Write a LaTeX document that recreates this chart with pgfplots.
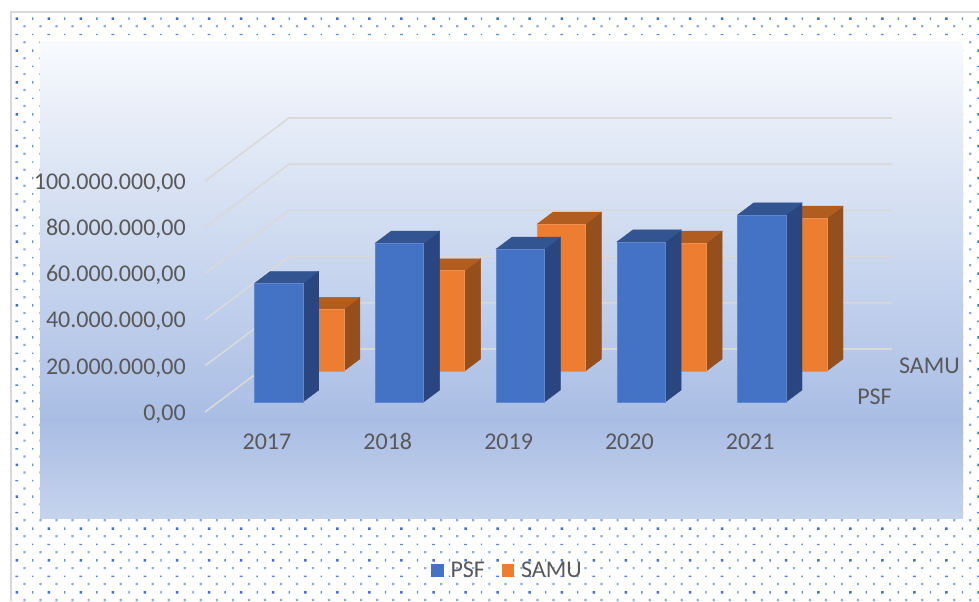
\documentclass[border=0pt]{standalone}
\usepackage{fontspec}
\setmainfont{Carlito}
\usepackage{pgfplots}
\pgfplotsset{compat=1.18}
\definecolor{bgA}{HTML}{C5D3EC}
\definecolor{bgB}{HTML}{A9BDE4}
\definecolor{bgC}{HTML}{D8E2F3}
\definecolor{bgD}{HTML}{F8FAFE}
\definecolor{txt}{HTML}{595959}
\definecolor{gridc}{HTML}{D9D9D9}
\definecolor{bFront}{HTML}{4472C4}
\definecolor{bTop}{HTML}{325591}
\definecolor{bSide}{HTML}{2A4680}
\definecolor{oFront}{HTML}{ED7D31}
\definecolor{oTop}{HTML}{B25D20}
\definecolor{oSide}{HTML}{954F1C}
\definecolor{dotS}{HTML}{4472C4}
\definecolor{dotM}{HTML}{8FAADC}
\pgfdeclareverticalshading{bgshade}{100bp}{color(0bp)=(bgA); color(25bp)=(bgA); color(35.25bp)=(bgB); color(59.5bp)=(bgC); color(75bp)=(bgD); color(100bp)=(bgD)}
% one 3D bar: year, x offset (years), base (millions), value (millions), front, top, side colours
\newcommand\dbar[7]{%
  \pgfmathsetmacro\xa{#1+#2}%
  \pgfmathsetmacro\xb{\xa+0.4}%
  \pgfmathsetmacro\xc{\xb+0.1325}%
  \pgfmathsetmacro\xd{\xa+0.1325}%
  \pgfmathsetmacro\ya{#3}%
  \pgfmathsetmacro\yb{#3+#4}%
  \pgfmathsetmacro\yc{\yb+5.195}%
  \pgfmathsetmacro\yd{\ya+5.195}%
  \addplot[forget plot,fill=#7,draw=#7,line width=.3pt] coordinates {(\xb,\ya) (\xc,\yd) (\xc,\yc) (\xb,\yb)} --cycle;
  \addplot[forget plot,fill=#6,draw=#6,line width=.3pt] coordinates {(\xa,\yb) (\xb,\yb) (\xc,\yc) (\xd,\yc)} --cycle;
  \addplot[forget plot,fill=#5,draw=#5!85!white,line width=.4pt] coordinates {(\xa,\ya) (\xb,\ya) (\xb,\yb) (\xa,\yb)} --cycle;
}
\newcommand\gline[2]{%
  \addplot[forget plot,gridc,line width=1.2pt] coordinates {(2016.487,#1) (2017.182,#2) (2022.174,#2)};
}
\begin{document}
\begin{tikzpicture}[x=0.75pt,y=-0.75pt]
\path[use as bounding box] (0,0) rectangle (979,601);
\fill[white] (0,0) rectangle (979,601);
% dotted chart-area texture
\fill[dotS] \foreach \i in {0,...,30}{\foreach \j in {0,...,18}{
  ({16.7+32.06*\i-1.2},{18.6+31.87*\j-1.2}) rectangle +(2.5,2.5)}};
\fill[dotS!80!white] \foreach \i in {0,...,30}{\foreach \j in {0,...,18}{
  ({32.7+32.06*\i-.6},{18.6+31.87*\j-1.2}) rectangle +(1.3,2.5)}};
\fill[dotS!85!white] \foreach \i in {0,...,30}{\foreach \j in {0,...,18}{
  ({16.7+32.06*\i-1.4},{34.5+31.87*\j-.6}) rectangle +(2.8,1.3)
  ({32.7+32.06*\i-.7},{34.5+31.87*\j-.7}) rectangle +(1.4,1.4)}};
\fill[dotM] \foreach \i in {0,...,60}{\foreach \j in {0,...,37}{
  ({24.5+16.03*\i-1.1},{26.3+15.935*\j-1.1}) rectangle +(2.2,2.2)}};
% frame and plot panel
\draw[gridc,line width=1.5pt] (10.8,601) -- (10.8,12.2) -- (979,12.2);
\shade[shading=bgshade] (40,41) rectangle (963,518);
\begin{axis}[
  at={(205*0.75pt,-412*0.75pt)},anchor=south west,
  scale only axis,width=515.25pt,height=173.25pt,
  xmin=2016.487,xmax=2022.174,ymin=0,ymax=100,
  clip=false,
  axis line style={draw=none},
  major tick length=0pt,
  xtick={2017,2018,2019,2020,2021},
  xticklabels={2017,2018,2019,2020,2021},
  ytick={0,20,40,60,80,100},
  yticklabels={{0,00},{20.000.000,00},{40.000.000,00},{60.000.000,00},{80.000.000,00},{100.000.000,00}},
  tick label style={font=\fontsize{18}{20}\selectfont,text=txt},
  yticklabel style={anchor=east,inner sep=0pt,xshift=-14.2pt,yshift=-1.5pt},
  xticklabel style={anchor=center,inner sep=0pt,yshift=-22pt},
  legend style={at={(0.441,-0.685)},anchor=center,draw=none,fill=none,
    font=\fontsize{18}{20}\selectfont,text=txt,legend columns=2,
    /tikz/every even column/.append style={column sep=10.8pt}},
  legend image code/.code={\draw[#1] (0.6pt,-4.2pt) rectangle (9pt,4.2pt); \path (12.5pt,0pt);},
]
\gline{0}{27.27}
\gline{20}{47.27}
\gline{40}{67.27}
\gline{60}{87.27}
\gline{80}{107.27}
\gline{100}{127.27}
% SAMU row
\dbar{2017}{0.236}{17.75}{26.7}{oFront}{oTop}{oSide}
\dbar{2018}{0.236}{17.75}{43.4}{oFront}{oTop}{oSide}
\dbar{2019}{0.236}{17.75}{63.6}{oFront}{oTop}{oSide}
\dbar{2020}{0.236}{17.75}{55.4}{oFront}{oTop}{oSide}
\dbar{2021}{0.236}{17.75}{66.2}{oFront}{oTop}{oSide}
% PSF row
\dbar{2017}{-0.1035}{4.33}{51.4}{bFront}{bTop}{bSide}
\dbar{2018}{-0.1035}{4.33}{68.8}{bFront}{bTop}{bSide}
\dbar{2019}{-0.1035}{4.33}{66.2}{bFront}{bTop}{bSide}
\dbar{2020}{-0.1035}{4.33}{69.3}{bFront}{bTop}{bSide}
\dbar{2021}{-0.1035}{4.33}{81.0}{bFront}{bTop}{bSide}
\addlegendimage{fill=bFront,draw=bFront}
\addlegendentry{PSF}
\addlegendimage{fill=oFront,draw=oFront}
\addlegendentry{SAMU}
\end{axis}
\node[anchor=east,inner sep=0pt,text=txt,font=\fontsize{18}{20}\selectfont] at (892,397) {PSF};
\node[anchor=east,inner sep=0pt,text=txt,font=\fontsize{18}{20}\selectfont] at (960,366) {SAMU};
\end{tikzpicture}
\end{document}
